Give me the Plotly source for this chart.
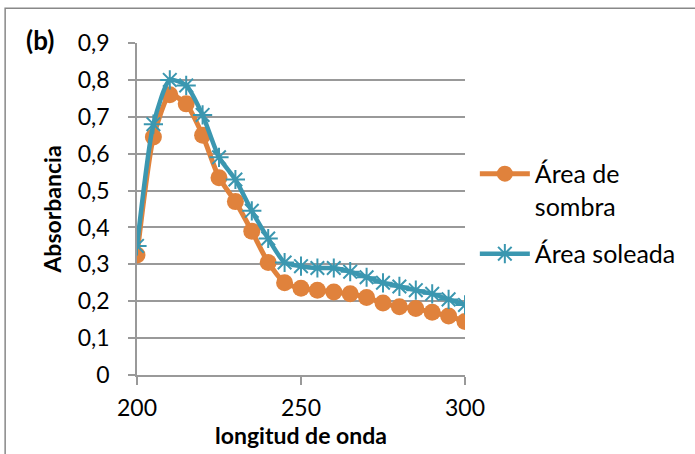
import plotly.graph_objects as go

wavelength = [200, 205, 210, 215, 220, 225, 230, 235, 240, 245, 250,
              255, 260, 265, 270, 275, 280, 285, 290, 295, 300]
sombra = [0.325, 0.645, 0.76, 0.735, 0.65, 0.535, 0.47, 0.39, 0.305, 0.25, 0.235,
          0.23, 0.225, 0.22, 0.21, 0.195, 0.185, 0.18, 0.17, 0.16, 0.145]
soleada = [0.35, 0.68, 0.80, 0.785, 0.705, 0.59, 0.53, 0.445, 0.37, 0.305, 0.295,
           0.29, 0.29, 0.28, 0.265, 0.25, 0.24, 0.23, 0.22, 0.205, 0.19]
y_ticks = [0, 0.1, 0.2, 0.3, 0.4, 0.5, 0.6, 0.7, 0.8, 0.9]
y_ticktext = ["0", "0,1", "0,2", "0,3", "0,4", "0,5", "0,6", "0,7", "0,8", "0,9"]
x_ticks = [200, 250, 300]

FONT = "Lato, 'Open Sans', sans-serif"
ORANGE = "#E0823C"
BLUE = "#3B97B0"

fig = go.Figure()
fig.add_trace(go.Scatter(
    x=wavelength, y=sombra, name="Área de<br>sombra", mode="lines+markers",
    legendgroup="a",
    line=dict(color=ORANGE, width=5, shape="spline", smoothing=0.6),
    marker=dict(symbol="circle", size=17, color=ORANGE),
))
fig.add_trace(go.Scatter(
    x=wavelength, y=soleada, name="Área soleada", mode="lines+markers",
    legendgroup="b",
    line=dict(color=BLUE, width=4.5, shape="spline", smoothing=0.6),
    marker=dict(symbol="asterisk-open", size=16, line=dict(color=BLUE, width=2)),
))

fig.update_layout(
    width=695, height=454,
    margin=dict(l=137, r=230, t=43, b=79),
    paper_bgcolor="white", plot_bgcolor="white",
    font=dict(family=FONT, size=23, color="#000"),
    showlegend=True,
    legend=dict(x=1.03, xanchor="left", y=0.675, yanchor="top",
                font=dict(size=25), itemwidth=50, tracegroupgap=12,
                traceorder="grouped", valign="top",
                bgcolor="rgba(0,0,0,0)"),
    shapes=[dict(type="rect", xref="paper", yref="paper",
                 x0=-0.402, x1=2.0, y0=-0.5, y1=1.105,
                 line=dict(color="#888", width=1.5))],
    annotations=[dict(text="<b>(b)</b>", xref="paper", yref="paper",
                      x=-0.345, y=1.01, xanchor="left", yanchor="middle",
                      showarrow=False, font=dict(size=26, family=FONT))],
)
fig.update_xaxes(
    range=[200, 300], tickvals=x_ticks, showgrid=False,
    showline=True, linecolor="#999", linewidth=1.5,
    ticks="outside", ticklen=8, tickcolor="#999", tickwidth=1.5,
    ticklabelstandoff=4,
    title=dict(text="<b>longitud de onda</b>", font=dict(size=23), standoff=0),
    zeroline=False,
)
fig.update_yaxes(
    range=[0, 0.9], tickvals=y_ticks, ticktext=y_ticktext,
    showgrid=True, gridcolor="#999", gridwidth=1.5,
    showline=True, linecolor="#999", linewidth=1.5,
    ticks="outside", ticklen=7, tickcolor="#999", tickwidth=1.5,
    ticklabelstandoff=14,
    title=dict(text="<b>Absorbancia</b>", font=dict(size=23), standoff=10),
    zeroline=False,
)

fig.write_html("out.html")
